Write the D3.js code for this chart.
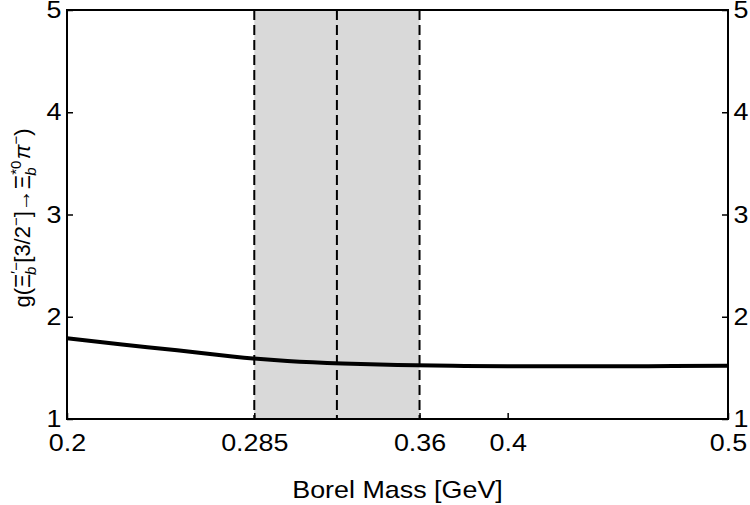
<!DOCTYPE html>
<html lang="en">
<head>
    <meta charset="UTF-8">
    <title>Coupling vs Borel Mass</title>
    <script src="https://cdn.jsdelivr.net/npm/d3@7/dist/d3.min.js"></script>
    <style>
        body{
            margin: 0;
            background: white;
            font-family: "Liberation Sans", Arial, sans-serif;
        }
        .axis text{
            font-family: "Liberation Sans", Arial, sans-serif;
            font-size: 24px;
            fill: black;
        }
        .axis .tick line{
            stroke: black;
            stroke-width: 1.5;
        }
        .axis path{
            display: none;
        }
    </style>
</head>
<body>
<svg id="main" width="750" height="505"></svg>
<script>
    const width = 750, height = 505
    const margin = {top: 10, bottom: 86, left: 67, right: 22}

    // data
    const borelMass = [0.2, 0.225, 0.25, 0.275, 0.3, 0.325, 0.35, 0.375, 0.4, 0.425, 0.45, 0.475, 0.5]
    const coupling = [1.79, 1.728, 1.672, 1.612, 1.568, 1.543, 1.528, 1.52, 1.517, 1.516, 1.516, 1.518, 1.521]
    // working window of the Borel mass
    const windowEdges = [0.285, 0.3225, 0.36]
    const xTicks = [0.2, 0.285, 0.36, 0.4, 0.5]
    const yTicks = [1, 2, 3, 4, 5]

    // the original picture is a bit wider than tall in its glyphs
    const stretch = "scale(1.12,1)"

    const svg = d3.select('svg#main')

    const xScale = d3.scaleLinear()
        .domain([0.2, 0.5])
        .range([margin.left, width - margin.right])
    const yScale = d3.scaleLinear()
        .domain([1, 5])
        .range([height - margin.bottom, margin.top])

    // shaded band
    svg.append("rect")
        .attr("x", xScale(windowEdges[0]))
        .attr("y", yScale(5))
        .attr("width", xScale(windowEdges[2]) - xScale(windowEdges[0]))
        .attr("height", yScale(1) - yScale(5))
        .attr("fill", "#d9d9d9")

    // dashed lines
    svg.append("g").selectAll("line")
        .data(windowEdges)
        .enter().append("line")
        .attr("x1", d => xScale(d)).attr("x2", d => xScale(d))
        .attr("y1", yScale(5)).attr("y2", yScale(1))
        .attr("stroke", "black")
        .attr("stroke-width", 2)
        .attr("stroke-dasharray", "10,5")

    // curve
    const line = d3.line()
        .x((d, i) => xScale(borelMass[i]))
        .y(d => yScale(d))
        .curve(d3.curveNatural)
    svg.append("path")
        .datum(coupling)
        .attr("d", line)
        .attr("fill", "none")
        .attr("stroke", "black")
        .attr("stroke-width", 4)

    // axes, ticks pointing inward
    svg.append("g").attr("class", "axis")
        .attr("transform", `translate(0,${yScale(1)})`)
        .call(d3.axisBottom(xScale).tickValues(xTicks).tickFormat(d3.format("")).tickSizeInner(-6).tickSizeOuter(0).tickPadding(15))
    svg.append("g").attr("class", "axis")
        .attr("transform", `translate(${xScale(0.2)},0)`)
        .call(d3.axisLeft(yScale).tickValues(yTicks).tickFormat(d3.format("d")).tickSizeInner(-6).tickSizeOuter(0).tickPadding(5))
    svg.append("g").attr("class", "axis")
        .attr("transform", `translate(${xScale(0.5)},0)`)
        .call(d3.axisRight(yScale).tickValues(yTicks).tickFormat(d3.format("d")).tickSizeInner(-6).tickSizeOuter(0).tickPadding(5))
    svg.selectAll(".axis .tick text").attr("transform", stretch)

    // frame
    svg.append("rect")
        .attr("x", xScale(0.2)).attr("y", yScale(5))
        .attr("width", xScale(0.5) - xScale(0.2))
        .attr("height", yScale(1) - yScale(5))
        .attr("fill", "none")
        .attr("stroke", "black")
        .attr("stroke-width", 2)

    // axis titles
    svg.append("text")
        .attr("transform", `translate(${(xScale(0.2) + xScale(0.5)) / 2},498) ${stretch}`)
        .attr("text-anchor", "middle")
        .attr("font-size", 24)
        .text("Borel Mass [GeV]")

    const yl = svg.append("text")
        .attr("transform", `translate(30,218) rotate(-90)`)
        .attr("text-anchor", "middle")
        .attr("font-size", 22)
    yl.append("tspan").text("g(Ξ")
    yl.append("tspan").attr("font-size", 15).attr("dy", -9).text("′−")
    yl.append("tspan").attr("font-size", 15).attr("font-style", "italic").attr("dx", -13).attr("dy", 15).text("b")
    yl.append("tspan").attr("dy", -6).attr("dx", 4).text("[3/2")
    yl.append("tspan").attr("font-size", 15).attr("dy", -9).text("−")
    yl.append("tspan").attr("dy", 9).text("]→Ξ")
    yl.append("tspan").attr("font-size", 15).attr("dy", -9).text("*0")
    yl.append("tspan").attr("font-size", 15).attr("font-style", "italic").attr("dx", -15).attr("dy", 15).text("b")
    yl.append("tspan").attr("font-style", "italic").attr("dy", -6).attr("dx", 8).text("π")
    yl.append("tspan").attr("font-size", 15).attr("dy", -9).text("−")
    yl.append("tspan").attr("dy", 9).text(")")
</script>
</body>
</html>
